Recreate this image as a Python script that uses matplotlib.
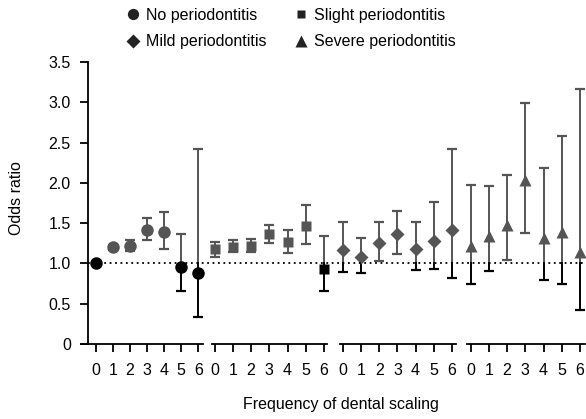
import numpy as np
import matplotlib.pyplot as plt
import matplotlib.transforms as mtransforms
from matplotlib.lines import Line2D

plt.rcParams['font.family'] = ['Liberation Sans', 'DejaVu Sans']

freq = [0, 1, 2, 3, 4, 5, 6]
labels = ['No periodontitis', 'Slight periodontitis', 'Mild periodontitis', 'Severe periodontitis']
markers = ['o', 's', 'D', '^']
msizes = [9, 7, 7.5, 9]

# odds ratio, lower and upper CI for each group
or_none = [1.00, 1.20, 1.22, 1.41, 1.39, 0.95, 0.885]
lo_none = [1.00, 1.17, 1.16, 1.29, 1.18, 0.66, 0.33]
hi_none = [1.00, 1.23, 1.29, 1.56, 1.64, 1.365, 2.42]

or_slight = [1.175, 1.21, 1.22, 1.36, 1.26, 1.46, 0.93]
lo_slight = [1.075, 1.14, 1.14, 1.25, 1.125, 1.24, 0.66]
hi_slight = [1.27, 1.29, 1.30, 1.48, 1.41, 1.72, 1.345]

or_mild = [1.17, 1.08, 1.25, 1.36, 1.18, 1.275, 1.415]
lo_mild = [0.89, 0.88, 1.03, 1.12, 0.92, 0.93, 0.82]
hi_mild = [1.52, 1.32, 1.51, 1.65, 1.52, 1.76, 2.42]

or_severe = [1.22, 1.34, 1.48, 2.035, 1.32, 1.39, 1.145]
lo_severe = [0.75, 0.91, 1.04, 1.38, 0.80, 0.74, 0.42]
hi_severe = [1.97, 1.96, 2.10, 2.995, 2.19, 2.58, 3.17]

data = [(or_none, lo_none, hi_none), (or_slight, lo_slight, hi_slight),
        (or_mild, lo_mild, hi_mild), (or_severe, lo_severe, hi_severe)]

gray = '#555555'
dark = '#000000'

W, H = 586, 419
fig = plt.figure(figsize=(5.86, 4.19), dpi=100)

# pixel extents of the four axis segments and their x limits
segs = [(81, 203, -0.86, 6.27), (212, 327, -0.15, 6.17),
        (340, 456, -0.18, 6.24), (467, 585, -0.2, 6.27)]
y_bot, y_top = 344, 62

axes = []
for k, (x0, x1, xl, xr) in enumerate(segs):
    ax = fig.add_axes([x0 / W, 1 - y_bot / H, (x1 - x0) / W, (y_bot - y_top) / H])
    ax.set_xlim(xl, xr)
    ax.set_ylim(0, 3.5)
    ax.patch.set_alpha(0)
    for s in ['top', 'right']:
        ax.spines[s].set_visible(False)
    ax.spines['bottom'].set_linewidth(1.3)
    ax.set_xticks(freq)
    ax.set_xticklabels([str(f) for f in freq])
    ax.tick_params(axis='x', direction='out', length=5.5, width=1.3, pad=8, labelsize=11.5)
    if k == 0:
        ax.spines['left'].set_position(('axes', 6.5 / (x1 - x0)))
        ax.spines['left'].set_linewidth(1.3)
        ax.set_yticks([0, 0.5, 1.0, 1.5, 2.0, 2.5, 3.0, 3.5])
        ax.set_yticklabels(['0', '0.5', '1.0', '1.5', '2.0', '2.5', '3.0', '3.5'])
        ax.tick_params(axis='y', direction='out', length=6, width=1.3, pad=6, labelsize=11.5)
    else:
        ax.spines['left'].set_visible(False)
        ax.set_yticks([])

    vals, lo, hi = data[k]
    for x, v, l, h in zip(freq, vals, lo, hi):
        if h > 1 and l < 1:
            ax.plot([x, x], [1, h], color=gray, lw=1.4, zorder=2, clip_on=False)
            ax.plot([x, x], [l, 1], color=dark, lw=1.4, zorder=2, clip_on=False)
        else:
            ax.plot([x, x], [l, h], color=gray if v > 1 else dark, lw=1.4, zorder=2, clip_on=False)
        if h != l:
            ax.plot(x, h, marker='_', ms=6.5, mew=1.6, color=gray if h > 1 else dark, clip_on=False, zorder=2)
            ax.plot(x, l, marker='_', ms=6.5, mew=1.6, color=gray if l > 1 else dark, clip_on=False, zorder=2)
        ax.plot(x, v, marker=markers[k], ms=msizes[k], color=gray if v > 1.0001 else dark,
                mec='none', zorder=3, clip_on=False)
    axes.append(ax)

# dotted reference line at OR = 1 across all segments
trans = mtransforms.blended_transform_factory(fig.transFigure, axes[0].transData)
fig.add_artist(Line2D([88 / W, 1.0], [1, 1], transform=trans, color='black',
                      lw=1.3, ls=(0, (1, 2)), zorder=1))

fig.text(17 / W, 1 - 198 / H, 'Odds ratio', rotation=90, ha='center', va='center', fontsize=11.5)
fig.text(341 / W, 1 - 404 / H, 'Frequency of dental scaling', ha='center', va='center', fontsize=11.5)

order = [0, 2, 1, 3]
handles = [Line2D([], [], ls='none', marker=markers[i], ms=msizes[i] * 0.9, color='#222222', mec='none')
           for i in order]
fig.legend(handles, [labels[i] for i in order], ncol=2, loc='upper center',
           bbox_to_anchor=(292 / W, 1.0), frameon=False, fontsize=11.5,
           handlelength=0.6, handletextpad=0.5, columnspacing=1.85, labelspacing=0.7,
           borderaxespad=0.1)

fig.savefig('out.png', dpi=100)
